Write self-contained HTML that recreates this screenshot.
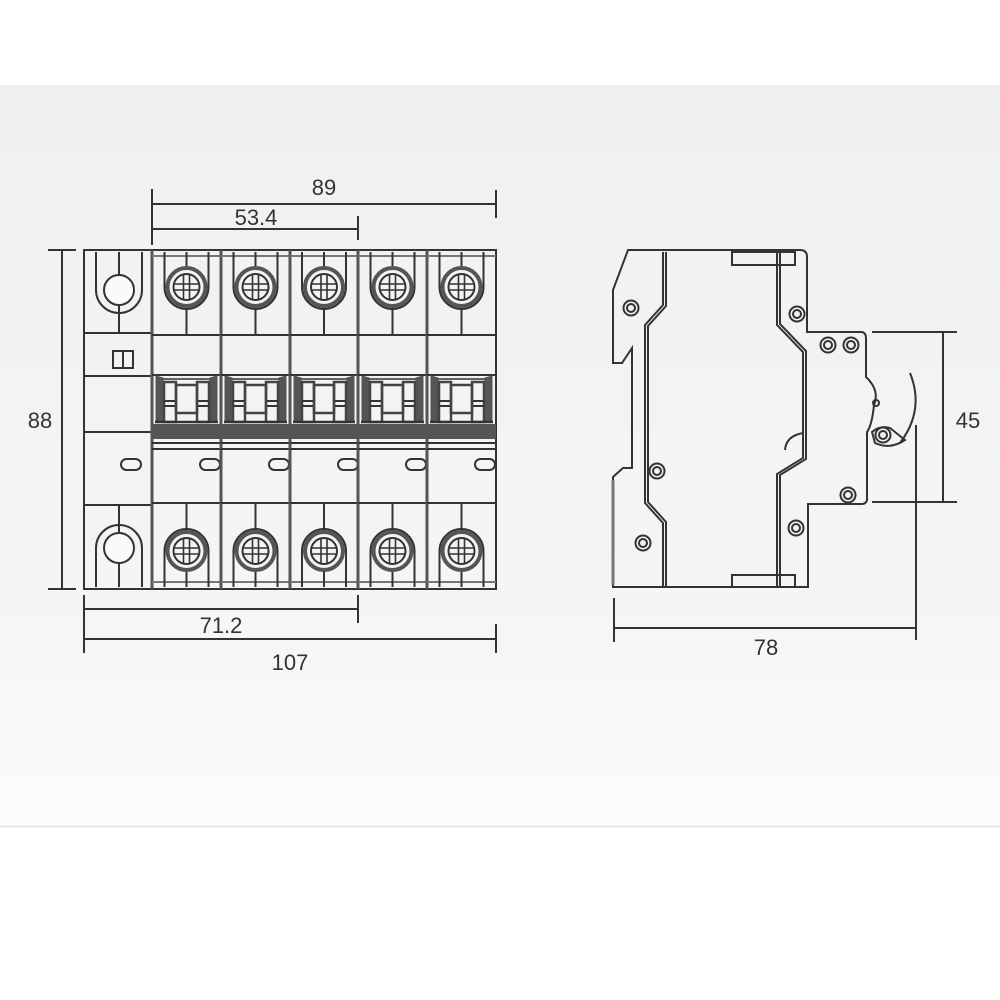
<!DOCTYPE html>
<html><head><meta charset="utf-8"><style>
html,body{margin:0;padding:0;background:#fff}
svg{display:block}
text{font-family:"Liberation Sans",sans-serif;font-size:22px;fill:#333}
</style></head><body>
<svg id="s" width="1000" height="1000" viewBox="0 0 1000 1000" xmlns="http://www.w3.org/2000/svg">
<defs><linearGradient id="bg" x1="0" y1="0" x2="0" y2="1">
<stop offset="0" stop-color="#eff0f0"/><stop offset="0.7" stop-color="#f5f5f5"/><stop offset="1" stop-color="#fcfcfc"/></linearGradient></defs>
<rect x="0" y="85" width="1000" height="741" fill="url(#bg)"/>
<line x1="0" y1="826.5" x2="1000" y2="826.5" stroke="#e2e2e2" stroke-width="1.5"/>
<g id="g" stroke="#333" stroke-width="2" fill="none">
<line x1="152" y1="204" x2="496" y2="204"/><line x1="152" y1="229" x2="358" y2="229"/>
<line x1="152" y1="189" x2="152" y2="245"/><line x1="496" y1="190" x2="496" y2="218"/><line x1="358" y1="216" x2="358" y2="240"/>
<line x1="62" y1="250" x2="62" y2="589"/><line x1="48" y1="250" x2="76" y2="250"/><line x1="48" y1="589" x2="76" y2="589"/>
<line x1="84" y1="609" x2="358" y2="609"/><line x1="84" y1="639" x2="496" y2="639"/>
<line x1="84" y1="595" x2="84" y2="653"/><line x1="358" y1="595" x2="358" y2="623"/><line x1="496" y1="624" x2="496" y2="653"/>
<line x1="614" y1="628" x2="916" y2="628"/><line x1="614" y1="598" x2="614" y2="642"/><line x1="916" y1="425" x2="916" y2="640"/>
<line x1="943" y1="332" x2="943" y2="502"/><line x1="872" y1="332" x2="957" y2="332"/><line x1="872" y1="502" x2="957" y2="502"/>
<rect x="84" y="250" width="412" height="339"/>
<line x1="152" y1="250" x2="152" y2="589"/>
<line x1="84" y1="333" x2="152" y2="333"/><line x1="84" y1="376" x2="152" y2="376"/><line x1="84" y1="432" x2="152" y2="432"/><line x1="84" y1="505" x2="152" y2="505"/>
<path d="M96 252 V290 A23 23 0 0 0 142 290 V252"/><line x1="119" y1="252" x2="119" y2="333"/>
<circle cx="119" cy="290" r="15" fill="#fafafa"/>
<path d="M96 587 V548 A23 23 0 0 1 142 548 V587"/><line x1="119" y1="505" x2="119" y2="587"/>
<circle cx="119" cy="548" r="15" fill="#fafafa"/>
<rect x="113" y="351" width="20" height="17"/><line x1="123" y1="351" x2="123" y2="368"/>
<rect x="121" y="459" width="20" height="11" rx="5.5"/>
<path d="M628 250 H800 Q807 250 807 257 V332 H862 Q866 333 866 338 V377 Q880 390 874 405 Q872 425 867 432 V500 Q866 504 862 504 H808 V587 H613 V477 L623 468 L632 468 V348 L622 363 H613 V290 Z"/>
<path d="M663 252 V305 L645 325 V503 L663 523 V586 M666 252 V306 L648 326 V502 L666 522 V586"/>
<path d="M777 252 V325 L803 352 V458 L777 474 V586 M780 252 V324 L806 351 V459 L780 475 V586"/>
<rect x="732" y="252" width="63" height="13"/><rect x="732" y="575" width="63" height="12"/>
<path d="M785 450 Q786 436 803 433"/>
<path d="M910 373 Q925 410 900 443"/>
<path d="M872 432 Q880 425 890 428 L905 440 Q890 450 875 443 Z"/>
<circle cx="876" cy="403" r="3"/>
<path d="M613 480 L613 585" stroke="#777" stroke-width="3"/>
</g>
<text x="324" y="195" text-anchor="middle">89</text>
<text x="256" y="225" text-anchor="middle">53.4</text>
<text x="40" y="428" text-anchor="middle">88</text>
<text x="221" y="633" text-anchor="middle">71.2</text>
<text x="290" y="670" text-anchor="middle">107</text>
<text x="766" y="655" text-anchor="middle">78</text>
<text x="968" y="428" text-anchor="middle">45</text>
</svg>
<script>
var g=document.getElementById('g'),NS='http://www.w3.org/2000/svg';
function el(t,a){var e=document.createElementNS(NS,t);for(var k in a)e.setAttribute(k,a[k]);g.appendChild(e);return e;}
var xs=[152,221,290,358,427,496];
el('rect',{x:152,y:424,width:344,height:15,fill:'#555',stroke:'none'});
for(var i=0;i<5;i++){
 var L=xs[i],R=xs[i+1],c=(L+R)/2;
 el('line',{x1:L,y1:250,x2:L,y2:589,'stroke-width':3,stroke:'#555'});
 el('line',{x1:L,y1:335,x2:R,y2:335});
 el('line',{x1:L,y1:375,x2:R,y2:375});
 el('line',{x1:L,y1:443,x2:R,y2:443});
 el('line',{x1:L,y1:449,x2:R,y2:449});
 el('line',{x1:L,y1:503,x2:R,y2:503});
 el('line',{x1:L,y1:582,x2:R,y2:582,stroke:'#777'});
 el('line',{x1:L,y1:256,x2:R,y2:256,stroke:'#777'});
 el('path',{d:'M'+(c-22)+' 252 V287 A22 22 0 0 0 '+(c+22)+' 287 V252'});
 el('line',{x1:c,y1:252,x2:c,y2:335});
 el('circle',{cx:c,cy:287,r:19,stroke:'#555','stroke-width':4,fill:'#f3f3f3'});
 el('circle',{cx:c,cy:287,r:13});
 el('path',{d:'M'+(c-13)+' 284 H'+(c+13)+' M'+(c-13)+' 290 H'+(c+13)+' M'+(c-3)+' 274 V300 M'+(c+3)+' 274 V300','stroke-width':1.6});
 el('path',{d:'M'+(c-22)+' 587 V551 A22 22 0 0 1 '+(c+22)+' 551 V587'});
 el('line',{x1:c,y1:503,x2:c,y2:587});
 el('circle',{cx:c,cy:551,r:19,stroke:'#555','stroke-width':4,fill:'#f3f3f3'});
 el('circle',{cx:c,cy:551,r:13});
 el('path',{d:'M'+(c-13)+' 548 H'+(c+13)+' M'+(c-13)+' 554 H'+(c+13)+' M'+(c-3)+' 538 V564 M'+(c+3)+' 538 V564','stroke-width':1.6});
 // handle
 el('path',{d:'M'+(L+4)+' 376 L'+(L+11)+' 378 V422 H'+(L+4)+' Z',fill:'#555',stroke:'#555','stroke-width':1});
 el('path',{d:'M'+(R-4)+' 376 L'+(R-11)+' 378 V422 H'+(R-4)+' Z',fill:'#555',stroke:'#555','stroke-width':1});
 el('line',{x1:L+11,y1:379,x2:R-11,y2:379,'stroke-width':1.5});
 el('rect',{x:L+12,y:382,width:12,height:40,'stroke-width':2.5,stroke:'#444'});
 el('rect',{x:R-24,y:382,width:12,height:40,'stroke-width':2.5,stroke:'#444'});
 el('path',{d:'M'+(L+12)+' 401 H'+(L+24)+' M'+(L+12)+' 406 H'+(L+24)+' M'+(R-24)+' 401 H'+(R-12)+' M'+(R-24)+' 406 H'+(R-12),'stroke-width':2});
 el('rect',{x:L+24,y:385,width:R-L-48,height:28,'stroke-width':2.5,stroke:'#444'});
 el('line',{x1:L+3,y1:422,x2:R-3,y2:422,'stroke-width':2.5});
 el('rect',{x:L+48,y:459,width:20,height:11,rx:5.5});
}
[[631,308],[797,314],[828,345],[851,345],[657,471],[643,543],[848,495],[796,528],[883,435]].forEach(function(p){
 el('circle',{cx:p[0],cy:p[1],r:7.5,fill:'#f1f1f1'});el('circle',{cx:p[0],cy:p[1],r:4});});
</script>
</body></html>
